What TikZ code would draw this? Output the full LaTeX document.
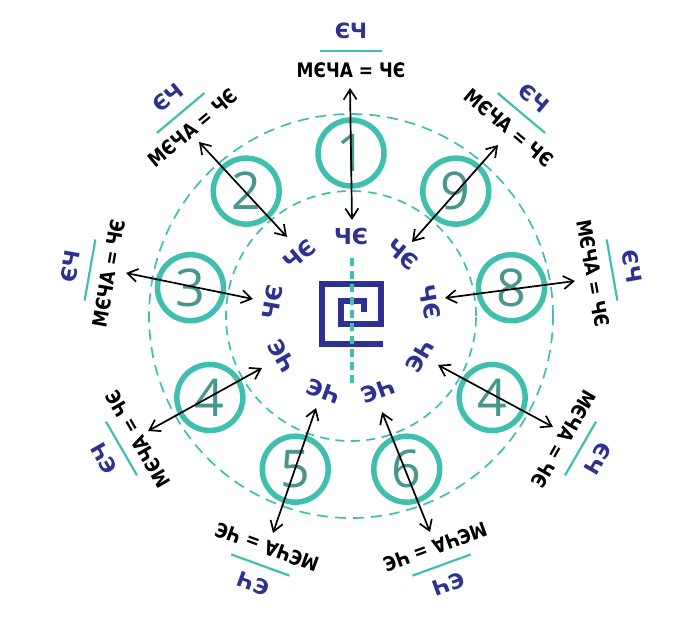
\documentclass[tikz,border=0pt]{standalone}
\usepackage{fontspec}
\usetikzlibrary{arrows.meta,calc}
\newfontfamily\glyphfont{DejaVu Sans}
\newfontfamily\numfont{Open Sans}
\definecolor{tealc}{RGB}{64,191,176}
\definecolor{bluec}{RGB}{46,49,146}
\definecolor{numc}{RGB}{72,150,141}
\begin{document}
\begin{tikzpicture}[x=1pt,y=1pt,
  numcircle/.style={circle, draw=tealc, line width=5.5pt, minimum size=66pt, inner sep=0pt,
     font=\numfont\fontsize{52}{52}\selectfont, text=numc},
  outerring/.style={tealc, line width=1.7pt, dash pattern=on 11pt off 7pt},
  innerring/.style={tealc, line width=1.7pt, dash pattern=on 9pt off 6.5pt},
  axisline/.style={tealc, line width=3.2pt, dash pattern=on 8pt off 5pt},
  spiral/.style={bluec, line width=5.5pt, line join=miter},
  conn/.style={black, line width=1.7pt, {Straight Barb[length=10pt,width=13pt]}-{Straight Barb[length=10pt,width=13pt]}},
  blacktext/.style={inner sep=0pt, xscale=0.85, font=\glyphfont\bfseries\fontsize{20}{20}\selectfont, text=black},
  bluetext/.style={inner sep=0pt, font=\glyphfont\bfseries\fontsize{21}{21}\selectfont, text=bluec},
  innerglyph/.style={inner sep=0pt, font=\glyphfont\bfseries\fontsize{22}{22}\selectfont, text=bluec},
  tealline/.style={tealc, line width=2.2pt}
]
\useasboundingbox (0,0) rectangle (685,622);
\coordinate (C) at (351,306);

% dashed rings
\draw[outerring] (C) circle (202);
\draw[innerring] (C) circle (125);

% central spiral and axis
\draw[spiral] (383,278) -- (322,278) -- (322,338) -- (381,338) -- (381,298)
   -- (341,298) -- (341,321) -- (364,321) -- (364,310);
\draw[axisline] (352,364) -- (352,237);

% numbered circles
\foreach \k/\lab in {0/1,1/2,2/3,3/4,4/5,5/6,6/4,7/8,8/9} {
  \node[numcircle] (n\k) at ($(C)+({90+40*\k}:163)$) {\lab};
}

% labels and inner glyphs
\foreach \k in {0,...,8} {
  \begin{scope}[shift={(C)}, rotate={40*\k}, transform shape]
    \node[blacktext] (t\k) at (0,246) {MЄЧA = ЧЄ};
    \coordinate (la\k) at (-31,265);
    \coordinate (lb\k) at (31,265);
    \draw[tealline] (la\k) -- (lb\k);
    \node[bluetext] (b\k) at (0,285) {ЄЧ};
    \node[innerglyph] (g\k) at (0,80) {ЧЄ};
  \end{scope}
}

% arrow end points
\coordinate (i0) at (352,402); \coordinate (o0) at (350,534);
\coordinate (i1) at (287,385); \coordinate (o1) at (199,480);
\coordinate (i2) at (253,323); \coordinate (o2) at (126,349);
\coordinate (i3) at (262,254); \coordinate (o3) at (148,191);
\coordinate (i4) at (316,214); \coordinate (o4) at (273,89);
\coordinate (i5) at (382,210); \coordinate (o5) at (430,90);
\coordinate (i6) at (438,257); \coordinate (o6) at (553,195);
\coordinate (i7) at (445,324); \coordinate (o7) at (575,341);
\coordinate (i8) at (412,380); \coordinate (o8) at (498,477);

\foreach \k in {0,...,8} {
  \draw[conn] (i\k) -- (o\k);
}
\end{tikzpicture}
\end{document}
